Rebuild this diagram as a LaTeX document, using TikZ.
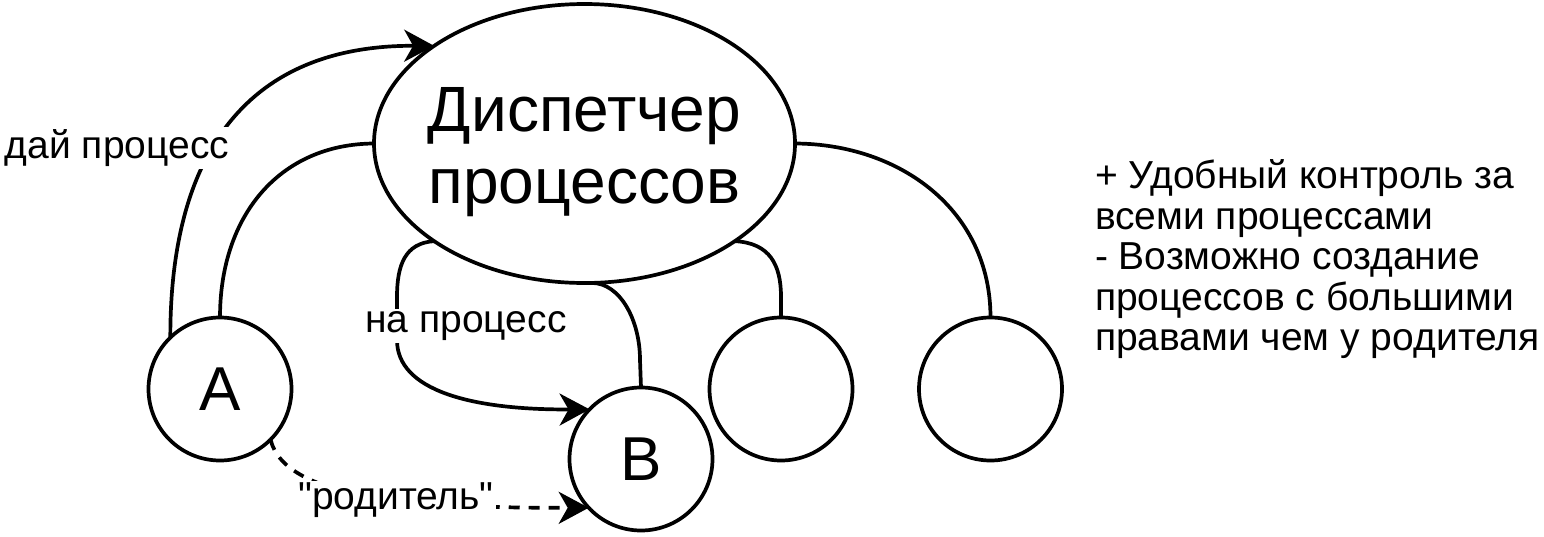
\documentclass[tikz,border=0pt]{standalone}
\usepackage{fontspec}
\setmainfont{Liberation Sans}[Ligatures=TeXOff]
\usetikzlibrary{shapes.geometric,arrows.meta}
\begin{document}
\begin{tikzpicture}[x=1pt,y=-1pt,
  every node/.style={inner sep=0pt, outer sep=0pt},
  proc/.style={draw, line width=3.7pt, circle, minimum size=143pt, font=\fontsize{62}{62}\selectfont},
  disp/.style={draw, line width=3.7pt, ellipse, minimum width=421pt, minimum height=279pt},
  bigtxt/.style={align=center, font=\fontsize{64}{72}\selectfont},
  conn/.style={line width=3.7pt},
  arr/.style={conn, -{Stealth[length=30pt, width=32pt, inset=9pt]}},
  dsh/.style={arr, dash pattern=on 11pt off 9pt},
  lbl/.style={fill=white, inner sep=2pt, font=\fontsize{39}{46}\selectfont},
]
\useasboundingbox (0,0) rectangle (1544,536);
\node[disp] (m) at (584.5,143.5) {};
\node[bigtxt] (mt) at (584.5,152) {Диспетчер\\процессов};
\node[proc] (a) at (220,389) {A};
\node[proc] (b) at (641,459) {B};
\node[proc] (c) at (781,389) {};
\node[proc] (d) at (990.5,389) {};
% connectors
\draw[arr] (a.134) .. controls (170,150) and (250,45) .. (m.147);
\draw[conn] (m.west) .. controls (280,144) and (220,215) .. (a.north);
\draw[arr] (m.213) .. controls (405,243) and (397,265) .. (397,297) -- (397,340) .. controls (397,390) and (470,410) .. (b.136);
\draw[conn] (m.273) .. controls (620,283) and (640,320) .. (640,360) -- (b.north);
\draw[conn] (m.327) .. controls (770,243) and (781,265) .. (781,297) -- (c.north);
\draw[conn] (m.east) .. controls (900,144) and (990.5,210) .. (d.north);
\draw[dsh] (a.315) .. controls (285,500) and (420,508) .. (b.223);
% labels
\node[lbl] (l1) at (117,148) {дай процесс};
\node[lbl] (l2) at (466,326) {на процесс};
\node[lbl] (l3) at (396,500) {"родитель"};
\node[anchor=north west, align=left, font=\fontsize{39}{40.5}\selectfont] (t) at (1095,160) {+ Удобный контроль за\\всеми процессами\\- Возможно создание\\процессов с большими\\правами чем у родителя};
\end{tikzpicture}
\end{document}
